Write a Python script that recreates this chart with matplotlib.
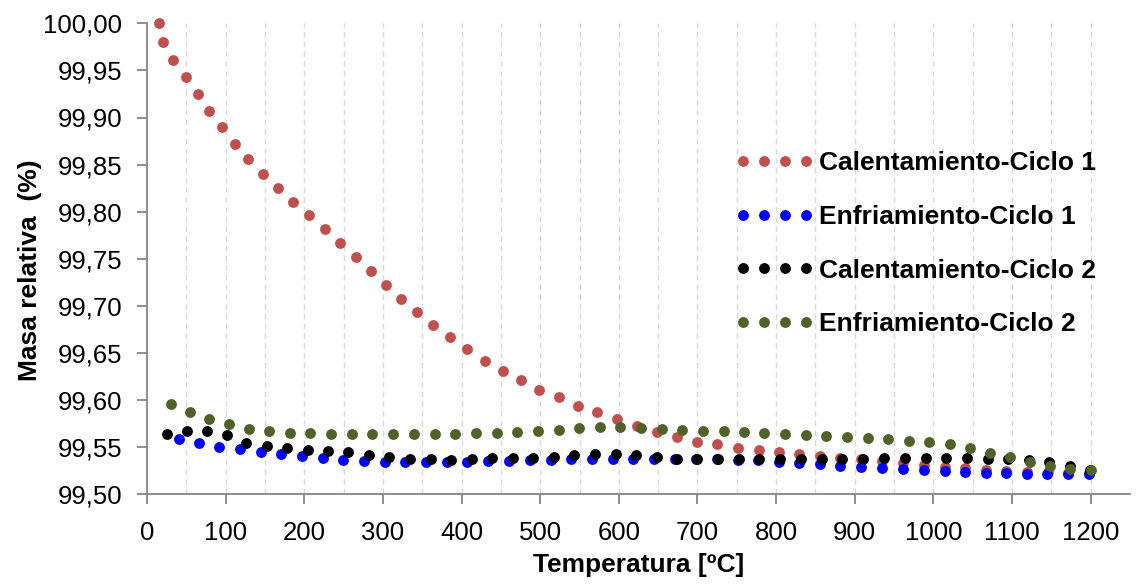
import matplotlib
matplotlib.use("Agg")
import matplotlib.pyplot as plt
from matplotlib.ticker import FixedLocator, FuncFormatter

plt.rcParams['font.family'] = ['Liberation Sans', 'DejaVu Sans']

# Heating, cycle 1
temp_cal1 = [15.6, 20.7, 33.1, 49.2, 64.5, 79.2, 95.3, 111.5, 128.4, 147.1,
             166.5, 185.6, 205.9, 226.3, 245.3, 265.3, 284.4, 303.5, 323.3, 343.2,
             364.0, 385.2, 407.2, 429.7, 452.2, 475.0, 498.7, 523.4, 547.9, 572.4,
             597.5, 622.5, 647.9, 673.4, 698.8, 725.0, 750.9, 777.6, 803.4, 829.7,
             855.5, 881.8, 908.5, 935.2, 961.4, 987.7, 1014.4, 1040.7, 1066.9, 1092.8,
             1119.0, 1145.3, 1171.4, 1197.5]
masa_cal1 = [100.000, 99.980, 99.961, 99.943, 99.925, 99.907, 99.890, 99.872, 99.856, 99.840,
             99.825, 99.810, 99.796, 99.782, 99.767, 99.752, 99.737, 99.722, 99.707, 99.693,
             99.680, 99.667, 99.654, 99.642, 99.631, 99.621, 99.611, 99.603, 99.594, 99.587,
             99.580, 99.573, 99.566, 99.561, 99.556, 99.553, 99.549, 99.547, 99.545, 99.543,
             99.541, 99.539, 99.537, 99.535, 99.533, 99.531, 99.529, 99.528, 99.526, 99.525,
             99.524, 99.524, 99.523, 99.523]

# Cooling, cycle 1
temp_enf1 = [40.7, 66.1, 91.9, 118.2, 144.5, 170.7, 197.0, 223.3, 249.5, 275.8,
             302.2, 328.3, 354.7, 381.0, 407.2, 433.5, 460.6, 486.9, 513.2, 539.4,
             565.7, 592.0, 618.2, 644.5, 671.2, 697.9, 724.6, 751.3, 777.3, 803.4,
             829.2, 856.1, 881.8, 908.5, 935.0, 961.4, 987.7, 1014.4, 1040.7, 1066.9,
             1092.8, 1119.0, 1145.0, 1171.2, 1197.8]
masa_enf1 = [99.5584, 99.5541, 99.5505, 99.5478, 99.5449, 99.5428, 99.5403, 99.5385, 99.5367, 99.5354,
             99.5343, 99.5340, 99.5340, 99.5340, 99.5346, 99.5354, 99.5354, 99.5364, 99.5369, 99.5372,
             99.5375, 99.5372, 99.5375, 99.5378, 99.5378, 99.5377, 99.5375, 99.5369, 99.5364, 99.5346,
             99.5329, 99.5320, 99.5304, 99.5293, 99.5282, 99.5269, 99.5258, 99.5247, 99.5240, 99.5229,
             99.5223, 99.5219, 99.5216, 99.5216, 99.5219]

# Heating, cycle 2
temp_cal2 = [25.0, 50.8, 76.7, 102.1, 126.2, 152.2, 178.0, 204.3, 230.1, 255.9,
             281.8, 308.0, 334.3, 360.6, 386.4, 412.8, 438.9, 464.9, 491.1, 517.4,
             543.2, 569.5, 595.8, 622.0, 647.9, 674.1, 699.5, 725.8, 752.5, 778.4,
             804.7, 831.4, 858.1, 884.4, 910.6, 937.2, 963.6, 990.3, 1016.6, 1042.8,
             1069.1, 1095.4, 1121.6, 1147.5, 1173.3, 1199.6]
masa_cal2 = [99.5643, 99.5674, 99.5674, 99.5627, 99.5545, 99.5511, 99.5491, 99.5470, 99.5456, 99.5446,
             99.5420, 99.5399, 99.5378, 99.5372, 99.5367, 99.5375, 99.5387, 99.5382, 99.5385, 99.5396,
             99.5414, 99.5425, 99.5428, 99.5414, 99.5393, 99.5378, 99.5378, 99.5378, 99.5375, 99.5372,
             99.5372, 99.5375, 99.5377, 99.5378, 99.5378, 99.5382, 99.5385, 99.5385, 99.5385, 99.5382,
             99.5378, 99.5378, 99.5364, 99.5340, 99.5300, 99.5258]

# Cooling, cycle 2
temp_enf2 = [30.5, 54.3, 78.4, 103.9, 129.3, 155.5, 181.8, 207.6, 233.9, 260.2,
             286.4, 313.0, 339.3, 365.7, 391.9, 418.5, 444.5, 470.7, 497.0, 523.4,
             549.5, 575.6, 601.9, 628.0, 654.3, 680.5, 706.8, 733.1, 759.3, 785.2,
             811.4, 837.7, 864.0, 890.2, 916.5, 942.6, 968.6, 995.0, 1020.8, 1046.6,
             1072.0, 1097.0, 1122.5, 1148.3, 1174.2, 1200.0]
masa_enf2 = [99.5955, 99.5877, 99.5803, 99.5743, 99.5696, 99.5674, 99.5656, 99.5648, 99.5642, 99.5639,
             99.5638, 99.5638, 99.5638, 99.5640, 99.5642, 99.5648, 99.5654, 99.5661, 99.5669, 99.5683,
             99.5701, 99.5711, 99.5713, 99.5702, 99.5690, 99.5681, 99.5675, 99.5669, 99.5661, 99.5654,
             99.5643, 99.5633, 99.5619, 99.5606, 99.5594, 99.5582, 99.5569, 99.5555, 99.5531, 99.5491,
             99.5442, 99.5393, 99.5343, 99.5297, 99.5265, 99.5261]

series = [
    ("Calentamiento-Ciclo 1", temp_cal1, masa_cal1, "#C0504D"),
    ("Enfriamiento-Ciclo 1", temp_enf1, masa_enf1, "#0000FF"),
    ("Calentamiento-Ciclo 2", temp_cal2, masa_cal2, "#000000"),
    ("Enfriamiento-Ciclo 2", temp_enf2, masa_enf2, "#4F6228"),
]

x_ticks = list(range(0, 1201, 100))
x_grid = list(range(50, 1201, 50))
y_ticks = [99.50, 99.55, 99.60, 99.65, 99.70, 99.75, 99.80, 99.85, 99.90, 99.95, 100.00]

fig = plt.figure(figsize=(11.36, 5.85), dpi=100)
ax = fig.add_axes([147 / 1136, 1 - 494.3 / 585, (1130 - 147) / 1136, (494.3 - 23.3) / 585])

for label, t, m, color in series:
    ax.plot(t, m, linestyle="none", marker="o", markersize=7.8,
            markerfacecolor=color, markeredgecolor=color, markeredgewidth=0,
            label=label, clip_on=False, zorder=3)

ax.set_xlim(0, 1250)
ax.set_ylim(99.50, 100.00)
ax.xaxis.set_major_locator(FixedLocator(x_ticks))
ax.xaxis.set_minor_locator(FixedLocator(x_grid))
ax.yaxis.set_major_locator(FixedLocator(y_ticks))
ax.yaxis.set_major_formatter(FuncFormatter(lambda v, p: f"{v:.2f}".replace(".", ",")))

ax.grid(False)
for xv in x_grid:
    ax.axvline(xv, color="#D9D9D9", linewidth=1.0, linestyle=(0, (4, 3)), zorder=1)

spine_color = "#868686"
for side in ("top", "right"):
    ax.spines[side].set_visible(False)
for side in ("left", "bottom"):
    ax.spines[side].set_color(spine_color)
    ax.spines[side].set_linewidth(1.3)

ax.tick_params(axis="both", which="major", direction="out", length=7, width=1.3,
               color=spine_color, labelsize=18.5, labelcolor="black")
ax.tick_params(axis="x", which="major", pad=12)
ax.tick_params(axis="y", which="major", pad=11)
ax.tick_params(axis="x", which="minor", length=0)

ax.set_xlabel("Temperatura [ºC]", fontsize=19, fontweight="bold", labelpad=6)
ax.set_ylabel("Masa relativa  (%)", fontsize=19, fontweight="bold")
ax.yaxis.set_label_coords(-0.107, 0.475)

leg = ax.legend(loc="upper left", bbox_to_anchor=(735 / 1136, 1 - 151 / 585),
                bbox_transform=fig.transFigure, frameon=False, numpoints=4,
                handlelength=3.0, handletextpad=0.2, labelspacing=1.13,
                borderpad=0, borderaxespad=0,
                prop={"size": 19, "weight": "bold"})

fig.savefig("out.png", dpi=100)
